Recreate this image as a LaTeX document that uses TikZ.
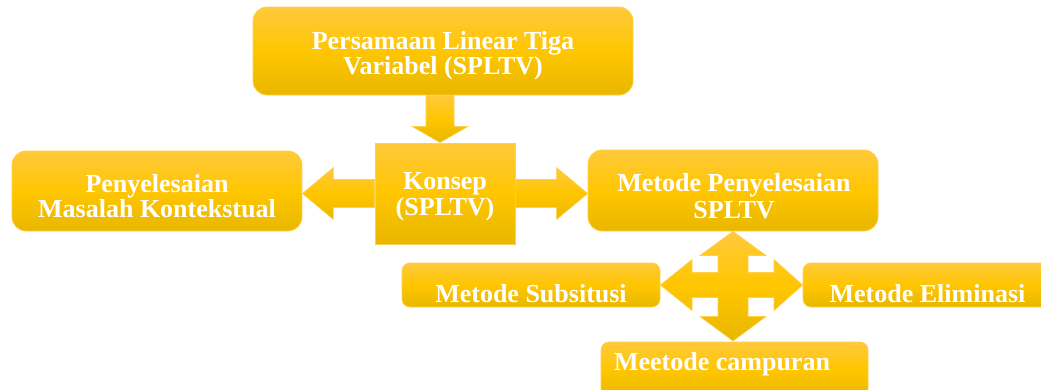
\documentclass[tikz,border=0pt]{standalone}
\usepackage{fontspec}
\setmainfont{Liberation Serif}
\usetikzlibrary{calc}
\definecolor{ytop}{HTML}{FFC93C}
\definecolor{ymid}{HTML}{FFC600}
\definecolor{ybot}{HTML}{E8B700}
\definecolor{yedge}{HTML}{FFD04C}
\begin{document}
\begin{tikzpicture}[x=1pt,y=-1pt,
  box/.style={draw=yedge, line width=0.8pt, rounded corners=14pt,
    top color=ytop, bottom color=ybot, middle color=ymid, inner sep=0pt},
  smallbox/.style={box, rounded corners=8pt},
  squarebox/.style={box, sharp corners},
  arr/.style={draw=yedge, line width=0.6pt, line join=miter,
    top color=ytop, bottom color=ybot, middle color=ymid},
  lbl/.style={text=white, font=\fontsize{26}{25}\selectfont\bfseries,
    inner sep=0pt, anchor=base}]
\useasboundingbox (0,0) rectangle (1041,389);
\clip (0,0) rectangle (1041,389);

% boxes
\node[box, minimum width=380pt, minimum height=88pt] (top) at (443,51) {};
\node[squarebox, minimum width=140pt, minimum height=101pt] (konsep) at (445,193.5) {};
\node[box, minimum width=290pt, minimum height=80pt] (peny) at (157,191) {};
\node[box, minimum width=290pt, minimum height=81pt] (metp) at (733,190.5) {};
\node[smallbox, minimum width=258pt, minimum height=44pt] (subs) at (531,285) {};
\node[smallbox, minimum width=249pt, minimum height=44pt] (elim) at (927.5,285) {};
\node[smallbox, minimum width=267pt, minimum height=56pt] (camp) at (734.5,370) {};

% down arrow from the title to the concept box
\coordinate (da) at ($(top.south)+(-3,0)$);
\draw[arr] ($(da)+(-14,0)$) -- ($(da)+(-14,31)$) -- ($(da)+(-28,31)$)
  -- (da |- konsep.north) -- ($(da)+(28,31)$) -- ($(da)+(14,31)$)
  -- ($(da)+(14,0)$) -- cycle;

% left and right arrows out of the concept box
\coordinate (la) at (konsep.west);
\draw[arr] ($(la)+(0,-14)$) -- ($(peny.east |- la)+(31,-14)$)
  -- ($(peny.east |- la)+(31,-26)$) -- (peny.east |- la)
  -- ($(peny.east |- la)+(31,26)$) -- ($(peny.east |- la)+(31,14)$)
  -- ($(la)+(0,14)$) -- cycle;
\coordinate (ra) at (konsep.east);
\draw[arr] ($(ra)+(0,-14)$) -- ($(metp.west |- ra)+(-31,-14)$)
  -- ($(metp.west |- ra)+(-31,-26)$) -- (metp.west |- ra)
  -- ($(metp.west |- ra)+(-31,26)$) -- ($(metp.west |- ra)+(-31,14)$)
  -- ($(ra)+(0,14)$) -- cycle;

% four-way arrow under the method box
\coordinate (hub) at (metp.south |- subs.east);
\draw[arr] (metp.south)
  -- ($(hub)+(33,-29.5)$) -- ($(hub)+(15,-29.5)$) -- ($(hub)+(15,-12.5)$)
  -- ($(hub)+(41,-12.5)$) -- ($(hub)+(41,-25.5)$) -- (elim.west)
  -- ($(hub)+(41,25.5)$) -- ($(hub)+(41,12.5)$) -- ($(hub)+(15,12.5)$)
  -- ($(hub)+(15,31.5)$) -- ($(hub)+(33,31.5)$) -- ($(hub)+(0,56)$)
  -- ($(hub)+(-33,31.5)$) -- ($(hub)+(-15,31.5)$) -- ($(hub)+(-15,12.5)$)
  -- ($(hub)+(-41,12.5)$) -- ($(hub)+(-41,25.5)$) -- (subs.east)
  -- ($(hub)+(-41,-25.5)$) -- ($(hub)+(-41,-12.5)$) -- ($(hub)+(-15,-12.5)$)
  -- ($(hub)+(-15,-29.5)$) -- ($(hub)+(-33,-29.5)$) -- cycle;

% labels
\node[lbl] (topA) at (443,49) {Persamaan Linear Tiga};
\node[lbl] (topB) at (443,74) {Variabel (SPLTV)};
\node[lbl] (penA) at (157,192) {Penyelesaian};
\node[lbl] (penB) at (157,217) {Masalah Kontekstual};
\node[lbl] (konA) at (445,189) {Konsep};
\node[lbl] (konB) at (445,215) {(SPLTV)};
\node[lbl] (metA) at (734,191) {Metode Penyelesaian};
\node[lbl] (metB) at (734,218) {SPLTV};
\node[lbl] (subT) at (531,302) {Metode Subsitusi};
\node[lbl] (elimT) at (927.5,302) {Metode Eliminasi};
\node[lbl] (campT) at (722,370) {Meetode campuran};
\end{tikzpicture}
\end{document}
